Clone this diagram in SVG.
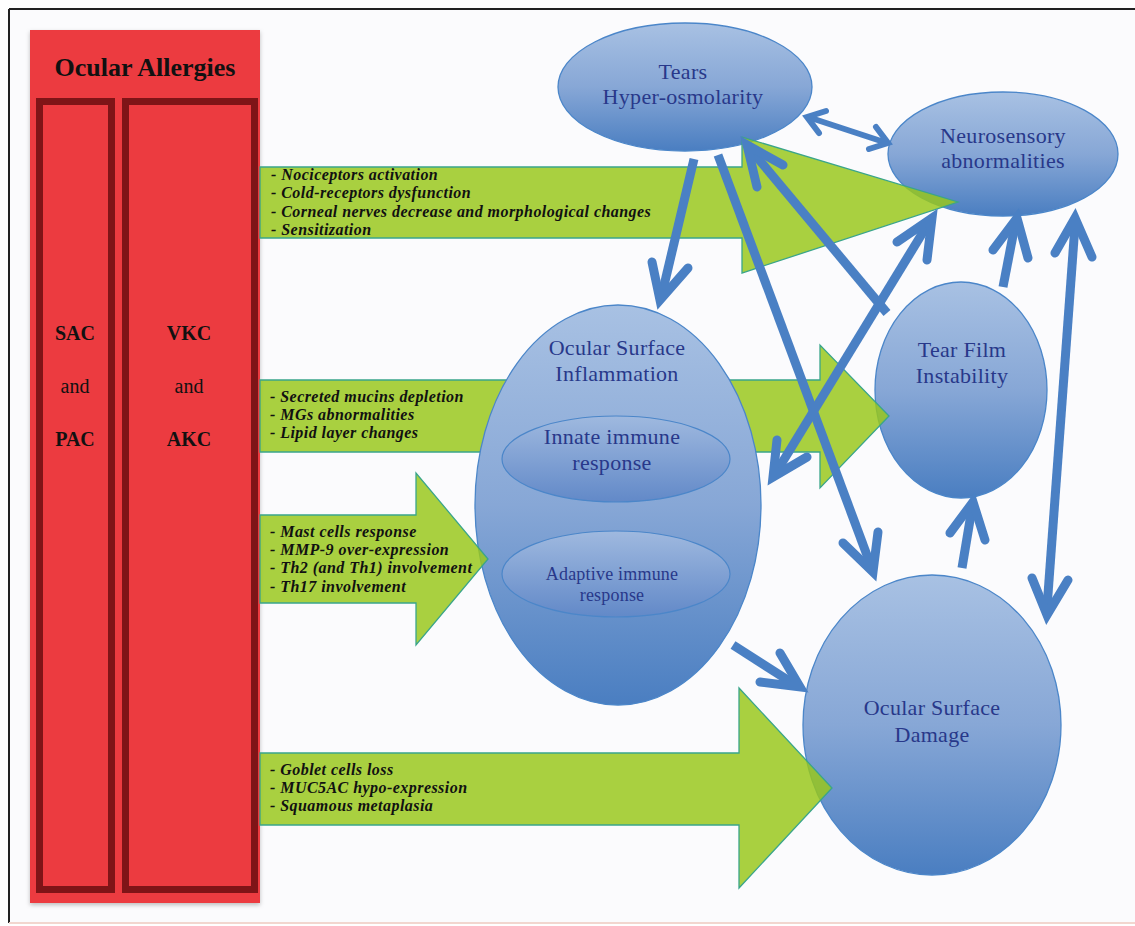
<svg xmlns="http://www.w3.org/2000/svg" width="1135" height="926" viewBox="0 0 1135 926">
<defs>
<linearGradient id="gBlue" x1="0" y1="0" x2="0" y2="1">
<stop offset="0" stop-color="#a8c1e3"/>
<stop offset="0.5" stop-color="#87a7d6"/>
<stop offset="1" stop-color="#4a7ec1"/>
</linearGradient>
<linearGradient id="gInner" x1="0" y1="0" x2="0" y2="1">
<stop offset="0" stop-color="#9fb9df"/>
<stop offset="1" stop-color="#6289c8"/>
</linearGradient>
<filter id="sh" x="-5%" y="-5%" width="110%" height="110%">
<feDropShadow dx="0" dy="2" stdDeviation="2" flood-color="#000" flood-opacity="0.25"/>
</filter>
</defs>
<style>
.frame{fill:#fbfbfd}
.ell{fill:url(#gBlue);stroke:#4b86c9;stroke-width:1.3}
.inner{fill:url(#gInner);stroke:#4b86c9;stroke-width:1.2}
.lbl{font-family:"Liberation Serif",serif;fill:#28388a;text-anchor:middle;font-size:22px;letter-spacing:0.3px}
.sm{font-size:18px;letter-spacing:0.2px}
.green{fill:#99c71c;fill-opacity:0.84;stroke:#3aa58b;stroke-width:1.3}
.gt{font-family:"Liberation Serif",serif;font-style:italic;font-weight:bold;font-size:16px;letter-spacing:0.45px;fill:#111}
.red{fill:#ec3b40}
.redin{fill:none;stroke:#7f1417;stroke-width:7}
.rt{font-family:"Liberation Serif",serif;fill:#111;text-anchor:middle;font-size:20px}
.title{font-size:26px;font-weight:bold}
.b{font-weight:bold}
.blue{fill:none;stroke:#4a80c4;stroke-width:9;stroke-linejoin:miter;stroke-linecap:butt}
.bluehead{fill:none;stroke:#4a80c4;stroke-width:9;stroke-linejoin:miter;stroke-linecap:round}
.thin{stroke-width:6}
</style>
<rect x="0" y="0" width="1135" height="926" fill="#ffffff"/>
<rect class="frame" x="9" y="9" width="1130" height="914"/>
<line x1="9" y1="9" x2="1135" y2="9" stroke="#222" stroke-width="2"/>
<line x1="9" y1="9" x2="9" y2="923" stroke="#222" stroke-width="2"/>
<line x1="9" y1="923" x2="1135" y2="923" stroke="#f2d6cf" stroke-width="2"/>

<g id="ocular-allergies">
<rect class="red" x="30" y="30" width="230" height="873" filter="url(#sh)"/>
<rect class="redin" x="39.5" y="101.5" width="72" height="788"/>
<rect class="redin" x="125.5" y="101.5" width="129" height="788"/>
<text class="rt title" x="145" y="76">Ocular Allergies</text>
<text class="rt b" x="75" y="340">SAC</text>
<text class="rt" x="75" y="393">and</text>
<text class="rt b" x="75" y="446">PAC</text>
<text class="rt b" x="189" y="340">VKC</text>
<text class="rt" x="189" y="393">and</text>
<text class="rt b" x="189" y="446">AKC</text>
</g>

<g id="tears-hyperosmolarity">
<ellipse class="ell" cx="685" cy="87" rx="127" ry="64"/>
<text class="lbl" x="683" y="79">Tears</text>
<text class="lbl" x="683" y="104">Hyper-osmolarity</text>
</g>
<g id="neurosensory">
<ellipse class="ell" cx="1003" cy="154" rx="115" ry="62"/>
<text class="lbl" x="1003" y="143">Neurosensory</text>
<text class="lbl" x="1003" y="168">abnormalities</text>
</g>
<g id="tear-film-instability">
<ellipse class="ell" cx="961" cy="390" rx="86" ry="108"/>
<text class="lbl" x="962" y="357">Tear Film</text>
<text class="lbl" x="962" y="383">Instability</text>
</g>
<g id="ocular-surface-damage">
<ellipse class="ell" cx="932" cy="725" rx="129" ry="150"/>
<text class="lbl" x="932" y="715">Ocular Surface</text>
<text class="lbl" x="932" y="742">Damage</text>
</g>

<g id="green-arrow-1">
<polygon class="green" points="260,167 742,167 742,137 958,202 742,273 742,238 260,238"/>
<text class="gt" x="271" y="180">- Nociceptors activation</text>
<text class="gt" x="271" y="198">- Cold-receptors dysfunction</text>
<text class="gt" x="271" y="217">- Corneal nerves decrease and morphological changes</text>
<text class="gt" x="271" y="235">- Sensitization</text>
</g>
<g id="green-arrow-2">
<polygon class="green" points="260,380 820,380 820,345 889,416 820,488 820,452 260,452"/>
<text class="gt" x="270" y="402">- Secreted mucins depletion</text>
<text class="gt" x="270" y="420">- MGs abnormalities</text>
<text class="gt" x="270" y="438">- Lipid layer changes</text>
</g>
<g id="green-arrow-4">
<polygon class="green" points="260,753 739,753 739,688 832,788 739,888 739,825 260,825"/>
<text class="gt" x="270" y="775">- Goblet cells loss</text>
<text class="gt" x="270" y="793">- MUC5AC hypo-expression</text>
<text class="gt" x="270" y="811">- Squamous metaplasia</text>
</g>

<g id="ocular-surface-inflammation">
<ellipse class="ell" cx="618" cy="505" rx="143" ry="200"/>
<text class="lbl" x="617" y="355">Ocular Surface</text>
<text class="lbl" x="617" y="381">Inflammation</text>
</g>
<g id="innate-immune-response">
<ellipse class="inner" cx="616" cy="459" rx="114" ry="43"/>
<text class="lbl" x="612" y="444">Innate immune</text>
<text class="lbl" x="612" y="470">response</text>
</g>
<g id="adaptive-immune-response">
<ellipse class="inner" cx="616" cy="574" rx="114" ry="43"/>
<text class="lbl sm" x="612" y="580">Adaptive immune</text>
<text class="lbl sm" x="612" y="601">response</text>
</g>

<g id="green-arrow-3">
<polygon class="green" points="260,515 416,515 416,473 488,559 416,645 416,603 260,603"/>
<text class="gt" x="270" y="537">- Mast cells response</text>
<text class="gt" x="270" y="555">- MMP-9 over-expression</text>
<text class="gt" x="270" y="573">- Th2 (and Th1) involvement</text>
<text class="gt" x="270" y="592">- Th17 involvement</text>
</g>

<g id="connectors">
<path class="blue" d="M694,159 L662,294"/>
<path class="bluehead" d="M652,262 L660,300 L688,268"/>
<path class="blue" d="M718,155 L871,566"/>
<path class="bluehead" d="M843,543 L873,572 L878,532"/>
<path class="blue" d="M887,313 L751,150"/>
<path class="bluehead" d="M757,187 L747,145 L783,165"/>
<path class="blue thin" d="M811,118 L884,142"/>
<path class="bluehead thin" d="M819,133 L807,117 L826,111 M869,149 L888,143 L876,127"/>
<path class="blue" d="M928,224 L777,471"/>
<path class="bluehead" d="M897,242 L932,218 L927,260 M777,440 L773,477 L807,457"/>
<path class="blue" d="M1003,287 L1015,225"/>
<path class="bluehead" d="M993,250 L1017,218 L1028,258"/>
<path class="blue" d="M1075,225 L1047,608"/>
<path class="bluehead" d="M1055,253 L1075,218 L1092,257 M1032,578 L1047,615 L1068,580"/>
<path class="blue" d="M962,568 L972,508"/>
<path class="bluehead" d="M950,533 L973,502 L985,540"/>
<path class="blue" d="M733,645 L794,684"/>
<path class="bluehead" d="M760,682 L800,687 L780,653"/>
</g>
</svg>
